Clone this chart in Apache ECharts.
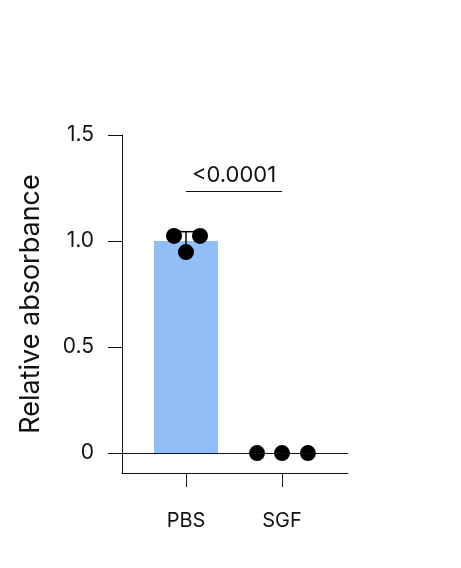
<!DOCTYPE html>
<html><head><meta charset="utf-8">
<script src="https://cdn.jsdelivr.net/npm/echarts@6/dist/echarts.min.js"></script>
<style>html,body{margin:0;padding:0;background:#fff}#c{width:461px;height:568px}</style>
</head><body><div id="c"></div>
<script>
const categories = ['PBS', 'SGF'];
const barMeans = [1.0, 0.0];
const barSD = [0.044, 0.0];
const pbsPoints = [[-0.125, 1.024], [0.146, 1.024], [0.0, 0.948]];
const sgfPoints = [[0.74, 0.0], [1.0, 0.0], [1.27, 0.0]];
const yTicks = [0, 0.5, 1.0, 1.5];
const yTickLabels = ['0', '0.5', '1.0', '1.5'];
const pValueText = '<0.0001';
const pValueLevel = 1.236;

const font = 'Inter, "Noto Sans", sans-serif';
const ink = '#111';
const chart = echarts.init(document.getElementById('c'), null, {renderer: 'canvas'});
chart.setOption({
  animation: false,
  backgroundColor: '#fff',
  grid: {left: 122, top: 135, width: 226, height: 338, containLabel: false},
  xAxis: {
    type: 'value', min: -0.6667, max: 1.6875,
    splitLine: {show: false},
    axisLine: {show: true, onZero: false, lineStyle: {color: ink, width: 1}},
    axisTick: {show: true, length: 14, customValues: [0, 1], lineStyle: {color: ink, width: 1}},
    axisLabel: {show: true, customValues: [0, 1], margin: 38, fontSize: 20, color: ink, fontFamily: font,
      formatter: v => categories[Math.round(v)]}
  },
  yAxis: {
    type: 'value', min: -0.094, max: 1.5,
    name: 'Relative absorbance', nameLocation: 'middle', nameGap: 78,
    nameTextStyle: {fontSize: 27, color: ink, fontFamily: font},
    splitLine: {show: false},
    axisLine: {show: true, onZero: false, lineStyle: {color: ink, width: 1}},
    axisTick: {show: true, length: 14, customValues: yTicks, lineStyle: {color: ink, width: 1}},
    axisLabel: {show: true, customValues: yTicks, margin: 28, fontSize: 21, color: ink, fontFamily: font,
      formatter: v => yTickLabels[yTicks.findIndex(t => Math.abs(t - v) < 1e-6)]}
  },
  series: [
    {
      type: 'bar', barWidth: 64,
      data: [[0, barMeans[0]], [1, barMeans[1]]],
      itemStyle: {color: '#8fbff6'},
      z: 1,
      markLine: {
        silent: true, symbol: ['none', 'none'],
        lineStyle: {color: ink, width: 1, type: 'solid'},
        label: {show: false},
        data: [
          [{coord: [-0.6667, 0]}, {coord: [1.6875, 0]}],
          [{coord: [0, pValueLevel], label: {show: true, position: 'middle', formatter: pValueText,
              fontSize: 22, color: ink, fontFamily: font, distance: 5}},
           {coord: [1, pValueLevel]}]
        ]
      }
    },
    {
      type: 'custom', z: 3,
      data: [[0, barMeans[0] - barSD[0], barMeans[0] + barSD[0]], [1, barMeans[1] - barSD[1], barMeans[1] + barSD[1]]],
      renderItem: function (params, api) {
        const x = api.value(0);
        const lo = api.coord([x, api.value(1)]);
        const hi = api.coord([x, api.value(2)]);
        const cap = 8;
        const style = {stroke: '#000', lineWidth: 1.5};
        return {type: 'group', children: [
          {type: 'line', shape: {x1: lo[0], y1: lo[1], x2: hi[0], y2: hi[1]}, style},
          {type: 'line', shape: {x1: hi[0] - cap, y1: hi[1], x2: hi[0] + cap, y2: hi[1]}, style},
          {type: 'line', shape: {x1: lo[0] - cap, y1: lo[1], x2: lo[0] + cap, y2: lo[1]}, style}
        ]};
      }
    },
    {type: 'scatter', z: 4, symbolSize: 16, itemStyle: {color: '#000', opacity: 1}, data: pbsPoints},
    {type: 'scatter', z: 4, symbolSize: 16, itemStyle: {color: '#000', opacity: 1}, data: sgfPoints}
  ]
});
</script></body></html>
